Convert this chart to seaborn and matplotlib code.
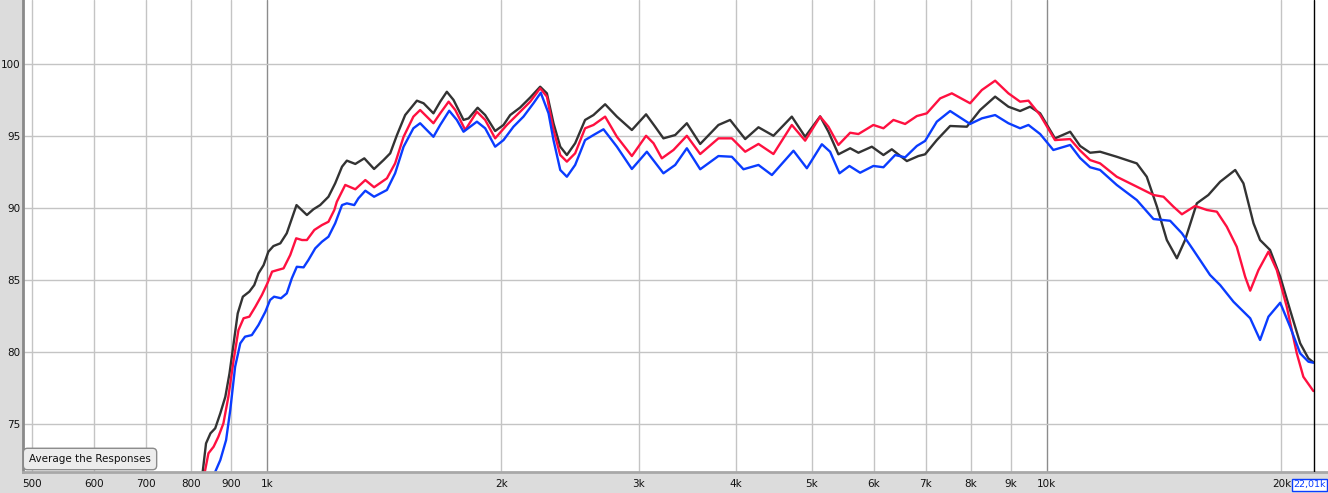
import pandas as pd
import matplotlib
matplotlib.use("Agg")
import matplotlib.pyplot as plt
import seaborn as sns

black_freq = [826, 836, 847, 859, 872, 885, 896, 907, 918, 932, 950, 964, 976, 991, 1005, 1020, 1041,
              1061, 1092, 1126, 1148, 1171, 1200, 1224, 1249, 1267, 1299, 1334, 1373, 1412, 1440, 1469,
              1505, 1558, 1589, 1636, 1669, 1702, 1736, 1788, 1815, 1864, 1906, 1963, 2012, 2052, 2113,
              2177, 2242, 2287, 2332, 2379, 2426, 2486, 2560, 2624, 2716, 2812, 2939, 3065, 3148, 3226,
              3340, 3457, 3596, 3795, 3928, 4107, 4271, 4464, 4713, 4902, 5124, 5251, 5408, 5599, 5737,
              5969, 6177, 6331, 6619, 6848, 6985, 7231, 7521, 7902, 8217, 8590, 8933, 9247, 9523, 9811,
              10250, 10720, 11040, 11370, 11710, 12300, 13050, 13440, 13850, 14260, 14690, 15050, 15580,
              16120, 16690, 17450, 17880, 18420, 18780, 19340, 19930, 20520, 21140, 21660, 21980]
black_db = [71.2, 73.62, 74.32, 74.67, 75.71, 76.86, 78.49, 80.58, 82.66, 83.82, 84.17, 84.63, 85.44,
            86.02, 86.95, 87.34, 87.53, 88.23, 90.19, 89.50, 89.90, 90.19, 90.77, 91.70, 92.86, 93.28,
            93.05, 93.44, 92.70, 93.32, 93.79, 95.06, 96.45, 97.45, 97.27, 96.57, 97.38, 98.07, 97.50,
            96.11, 96.22, 96.96, 96.45, 95.34, 95.76, 96.45, 96.97, 97.67, 98.42, 97.96, 95.88, 94.25,
            93.67, 94.49, 96.11, 96.45, 97.20, 96.34, 95.41, 96.50, 95.64, 94.83, 95.06, 95.88, 94.44,
            95.76, 96.11, 94.78, 95.60, 95.01, 96.34, 94.94, 96.36, 95.29, 93.72, 94.14, 93.83, 94.25,
            93.67, 94.07, 93.25, 93.60, 93.72, 94.71, 95.69, 95.64, 96.80, 97.73, 97.03, 96.73, 97.03,
            96.57, 94.83, 95.29, 94.30, 93.83, 93.90, 93.55, 93.09, 92.16, 90.08, 87.76, 86.49, 87.76,
            90.31, 90.89, 91.81, 92.63, 91.70, 88.92, 87.76, 87.07, 85.21, 82.89, 80.58, 79.53, 79.26]

red_freq = [830, 842, 855, 867, 880, 893, 907, 920, 934, 950, 967, 986, 1002, 1016, 1032, 1051, 1072,
            1091, 1110, 1126, 1151, 1177, 1200, 1221, 1230, 1261, 1299, 1338, 1373, 1426, 1461, 1498,
            1542, 1573, 1636, 1669, 1711, 1745, 1797, 1860, 1906, 1963, 2032, 2093, 2177, 2242, 2287,
            2332, 2379, 2426, 2486, 2560, 2624, 2716, 2812, 2939, 3065, 3133, 3211, 3323, 3457, 3596,
            3795, 3948, 4107, 4271, 4464, 4713, 4902, 5124, 5251, 5408, 5599, 5737, 5996, 6177, 6362,
            6585, 6817, 7021, 7303, 7559, 7978, 8259, 8590, 8933, 9247, 9478, 9811, 10250, 10720, 11040,
            11370, 11710, 12300, 13050, 13710, 14120, 14540, 14910, 15500, 16050, 16530, 17020, 17530,
            17970, 18240, 18690, 19250, 19730, 20320, 20930, 21340, 21980]
red_db = [71.2, 72.93, 73.39, 74.08, 75.01, 76.86, 79.42, 81.50, 82.32, 82.43, 83.12, 83.94, 84.75,
          85.56, 85.67, 85.79, 86.72, 87.88, 87.76, 87.76, 88.46, 88.80, 89.03, 89.85, 90.42, 91.59,
          91.29, 91.93, 91.43, 92.05, 93.09, 94.94, 96.34, 96.80, 95.88, 96.57, 97.38, 96.80, 95.41,
          96.68, 96.11, 94.83, 95.76, 96.45, 97.38, 98.31, 97.73, 95.41, 93.67, 93.21, 93.79, 95.53,
          95.76, 96.34, 94.94, 93.60, 95.01, 94.49, 93.44, 94.02, 95.01, 93.74, 94.83, 94.83, 93.90,
          94.44, 93.74, 95.76, 94.67, 96.34, 95.64, 94.37, 95.22, 95.13, 95.76, 95.53, 96.11, 95.83,
          96.38, 96.57, 97.61, 97.96, 97.27, 98.19, 98.84, 97.96, 97.38, 97.45, 96.45, 94.71, 94.78,
          93.98, 93.32, 93.09, 92.16, 91.47, 90.89, 90.77, 90.08, 89.55, 90.13, 89.85, 89.73, 88.69,
          87.29, 85.21, 84.24, 85.67, 86.95, 85.67, 83.12, 79.88, 78.25, 77.26]

blue_freq = [852, 872, 887, 898, 911, 925, 938, 957, 976, 996, 1010, 1022, 1043, 1061, 1077, 1093, 1115,
             1131, 1154, 1177, 1200, 1224, 1249, 1267, 1295, 1311, 1338, 1373, 1426, 1461, 1498, 1542,
             1573, 1636, 1669, 1714, 1753, 1788, 1860, 1906, 1963, 2012, 2072, 2134, 2198, 2246, 2298,
             2332, 2379, 2426, 2486, 2560, 2624, 2703, 2812, 2939, 3072, 3226, 3340, 3457, 3596, 3795,
             3948, 4086, 4271, 4444, 4736, 4927, 5150, 5277, 5425, 5587, 5766, 5996, 6177, 6394, 6585,
             6817, 6985, 7231, 7521, 7978, 8259, 8590, 8933, 9247, 9478, 9811, 10200, 10720, 11040,
             11370, 11710, 12300, 13050, 13710, 14400, 14910, 15420, 16200, 16690, 17360, 18240, 18780,
             19250, 19930, 20520, 21140, 21660, 21980]
blue_db = [71.2, 72.46, 73.85, 75.94, 78.95, 80.58, 81.04, 81.15, 81.85, 82.77, 83.59, 83.82, 83.71,
           84.05, 85.10, 85.90, 85.86, 86.37, 87.18, 87.64, 87.99, 88.92, 90.19, 90.31, 90.19, 90.66,
           91.19, 90.77, 91.24, 92.40, 94.25, 95.53, 95.88, 94.94, 95.76, 96.75, 96.11, 95.29, 95.99,
           95.53, 94.25, 94.71, 95.64, 96.34, 97.27, 98.00, 96.57, 94.71, 92.63, 92.16, 92.98, 94.71,
           95.06, 95.46, 94.25, 92.70, 93.90, 92.40, 92.98, 94.14, 92.68, 93.60, 93.55, 92.68, 92.98,
           92.28, 93.97, 92.75, 94.42, 93.90, 92.40, 92.91, 92.44, 92.91, 92.82, 93.67, 93.51, 94.30,
           94.65, 95.99, 96.73, 95.83, 96.22, 96.45, 95.88, 95.53, 95.76, 95.13, 94.02, 94.37, 93.46,
           92.82, 92.63, 91.59, 90.54, 89.22, 89.10, 88.23, 87.07, 85.33, 84.63, 83.47, 82.32, 80.81,
           82.43, 83.40, 81.73, 79.88, 79.30, 79.23]

x_ticks = [500, 600, 700, 800, 900, 1000, 2000, 3000, 4000, 5000, 6000, 7000, 8000, 9000, 10000, 20000]
x_labels = ["500", "600", "700", "800", "900", "1k", "2k", "3k", "4k", "5k", "6k", "7k", "8k", "9k", "10k", "20k"]
y_ticks = [75, 80, 85, 90, 95, 100]
cursor_freq = 22010
cursor_label = "22,01k"

df = pd.concat([
    pd.DataFrame({"freq": black_freq, "spl": black_db, "trace": "black"}),
    pd.DataFrame({"freq": red_freq, "spl": red_db, "trace": "red"}),
    pd.DataFrame({"freq": blue_freq, "spl": blue_db, "trace": "blue"}),
])

sns.set_theme(style="white")
plt.rcParams["font.family"] = ["DejaVu Sans"]

fig = plt.figure(figsize=(13.28, 4.93), dpi=100, facecolor="#dcdcdc")
ax = fig.add_axes([23 / 1328, 21 / 493, 1305 / 1328, 472 / 493])
ax.set_facecolor("white")
ax.set_xscale("log")

# grid first so the curves sit on top
for f in x_ticks:
    strong = f in (1000, 10000)
    ax.axvline(f, color="#8c8c8c" if strong else "#c4c4c4", lw=1.0, zorder=0)
for v in y_ticks:
    ax.axhline(v, color="#c4c4c4", lw=1.0, zorder=0)

sns.lineplot(
    data=df, x="freq", y="spl", hue="trace",
    palette={"black": "#333333", "red": "#ff1040", "blue": "#0a3cff"},
    hue_order=["black", "red", "blue"],
    estimator=None, sort=False, legend=False, lw=1.7, ax=ax,
)
for line in ax.get_lines():
    line.set_solid_joinstyle("round")

ax.set_xlim(487, 22950)
ax.set_ylim(71.63, 104.45)
ax.set_xticks(x_ticks)
ax.set_xticklabels(x_labels)
ax.xaxis.set_minor_locator(matplotlib.ticker.NullLocator())
ax.set_yticks(y_ticks)
ax.set_yticklabels([str(v) for v in y_ticks])
ax.tick_params(axis="both", length=0, labelsize=7.5, colors="#111111")
ax.tick_params(axis="x", pad=5)
ax.tick_params(axis="y", pad=2)
ax.set_xlabel("")
ax.set_ylabel("")

for side in ["top", "right"]:
    ax.spines[side].set_visible(False)
ax.spines["left"].set_color("#8a8a8a")
ax.spines["left"].set_linewidth(2)
ax.spines["bottom"].set_color("#a8a8a8")
ax.spines["bottom"].set_linewidth(2)

# cursor line and its readout
ax.axvline(cursor_freq, color="black", lw=1.0, zorder=5)
fig.text(1326 / 1328, 1 - 485 / 493, cursor_label, color="#0a3cff", fontsize=6.8,
         ha="right", va="center",
         bbox=dict(boxstyle="square,pad=0.12", fc="white", ec="#0a3cff", lw=1))

# the button in the corner
fig.text(90 / 1328, 1 - 459 / 493, "Average the Responses", fontsize=7.5, color="#111111",
         ha="center", va="center",
         bbox=dict(boxstyle="round,pad=0.55,rounding_size=0.4", fc="#ececec", ec="#8a8a8a", lw=1))

plt.savefig("out.png", dpi=100, facecolor=fig.get_facecolor())
